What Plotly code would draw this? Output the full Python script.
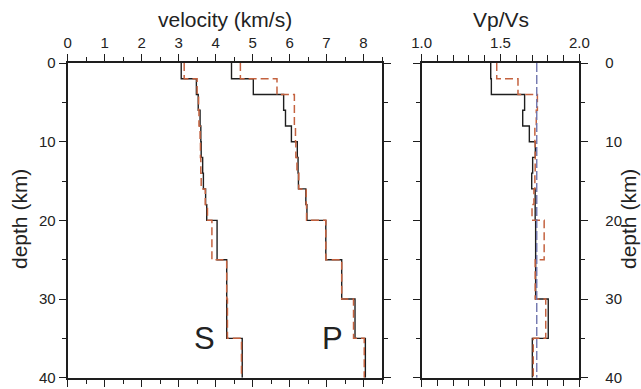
import plotly.graph_objects as go

# ---- data ----
depth_tops = [0, 2, 4, 6, 8, 10, 12, 14, 16, 18, 20, 25, 30, 35]
max_depth = 40

vs_black = [3.07, 3.48, 3.53, 3.58, 3.60, 3.61, 3.65, 3.67, 3.73, 3.76, 4.04, 4.30, 4.30, 4.72]
vp_black = [4.43, 5.02, 5.84, 5.89, 6.05, 6.21, 6.23, 6.24, 6.44, 6.47, 6.98, 7.41, 7.77, 8.05]
vs_red = [3.15, 3.50, 3.54, 3.55, 3.58, 3.59, 3.60, 3.61, 3.72, 3.78, 3.90, 4.30, 4.32, 4.70]
vp_red = [4.67, 5.66, 6.13, 6.13, 6.16, 6.17, 6.20, 6.25, 6.45, 6.46, 6.98, 7.41, 7.73, 8.02]

ratio_black = [1.438, 1.442, 1.653, 1.641, 1.683, 1.721, 1.704, 1.698, 1.720, 1.720, 1.723, 1.723, 1.803, 1.702]
ratio_red = [1.476, 1.611, 1.734, 1.727, 1.718, 1.720, 1.720, 1.718, 1.712, 1.700, 1.777, 1.720, 1.787, 1.708]
ratio_ref = 1.73

vel_ticks = [0, 1, 2, 3, 4, 5, 6, 7, 8]
ratio_ticks = [1.0, 1.5, 2.0]
depth_ticks = [0, 10, 20, 30, 40]

BLACK = "#1e1e1e"
RED = "#c4623f"
BLUE = "#6f74ad"
FONT = "Liberation Sans, Arial, sans-serif"
W, H = 641, 389


def step(vals):
    return vals + [vals[-1]], depth_tops + [max_depth]


fig = go.Figure()

def add(vals, color, dash, width, xa, ya):
    x, y = step(vals)
    fig.add_trace(go.Scatter(x=x, y=y, mode="lines", line_shape="vh",
                             line=dict(color=color, width=width, dash=dash),
                             xaxis=xa, yaxis=ya, showlegend=False, hoverinfo="skip"))

add(vs_black, BLACK, "solid", 1.4, "x", "y")
add(vp_black, BLACK, "solid", 1.4, "x", "y")
add(vs_red, RED, "8px,4px", 1.5, "x", "y")
add(vp_red, RED, "8px,4px", 1.5, "x", "y")

add(ratio_black, BLACK, "solid", 1.4, "x2", "y2")
add(ratio_red, RED, "8px,4px", 1.5, "x2", "y2")
fig.add_trace(go.Scatter(x=[ratio_ref, ratio_ref], y=[0, max_depth], mode="lines",
                         line=dict(color=BLUE, width=1.4, dash="9px,3px"),
                         xaxis="x2", yaxis="y2", showlegend=False, hoverinfo="skip"))

axis_common = dict(showgrid=False, zeroline=False, showline=True, linewidth=2,
                   linecolor=BLACK, mirror="ticks", ticks="outside", ticklen=7,
                   tickwidth=1, tickcolor=BLACK, automargin=False,
                   tickfont=dict(family=FONT, size=15, color="#222"))

x0, x1 = 67.7 / W, 382 / W
x2a, x2b = 421.7 / W, 579.3 / W
ytop, ybot = 1 - 63 / H, 1 - 377.7 / H

fig.update_layout(
    width=W, height=H, margin=dict(l=0, r=0, t=0, b=0),
    paper_bgcolor="white", plot_bgcolor="white",
    xaxis=dict(domain=[x0, x1], range=[0, 8.5], side="top", anchor="y",
               tickvals=vel_ticks,
               minor=dict(dtick=0.5, tick0=0, ticklen=4, ticks="outside", tickcolor=BLACK),
               **axis_common),
    yaxis=dict(domain=[ybot, ytop], range=[max_depth, 0], anchor="x",
               tickvals=depth_ticks,
               minor=dict(dtick=5, tick0=0, ticklen=4, ticks="outside", tickcolor=BLACK),
               **axis_common),
    xaxis2=dict(domain=[x2a, x2b], range=[1.0, 2.0], side="top", anchor="y2",
                tickvals=ratio_ticks, tickformat=".1f",
                minor=dict(dtick=0.1, tick0=1.0, ticklen=6, ticks="outside", tickcolor=BLACK),
                **axis_common),
    yaxis2=dict(domain=[ybot, ytop], range=[max_depth, 0], anchor="x2", side="right",
                tickvals=depth_ticks, ticklabelstandoff=14,
                minor=dict(dtick=5, tick0=0, ticklen=4, ticks="outside", tickcolor=BLACK),
                **axis_common),
)

title_font = dict(family=FONT, size=21, color="#222")
ann = [
    dict(text="velocity (km/s)", x=(x0 + x1) / 2, y=1 - 20 / H, xref="paper", yref="paper",
         showarrow=False, xanchor="center", yanchor="middle", font=title_font),
    dict(text="Vp/Vs", x=(x2a + x2b) / 2, y=1 - 20 / H, xref="paper", yref="paper",
         showarrow=False, xanchor="center", yanchor="middle", font=title_font),
    dict(text="depth (km)", x=19 / W, y=1 - 219 / H, xref="paper", yref="paper",
         showarrow=False, xanchor="center", yanchor="middle", textangle=-90, font=title_font),
    dict(text="depth (km)", x=628 / W, y=1 - 219 / H, xref="paper", yref="paper",
         showarrow=False, xanchor="center", yanchor="middle", textangle=-90, font=title_font),
    dict(text="S", x=3.71, y=35, xref="x", yref="y", showarrow=False,
         xanchor="center", yanchor="middle", font=dict(family=FONT, size=31, color="#222")),
    dict(text="P", x=7.15, y=35, xref="x", yref="y", showarrow=False,
         xanchor="center", yanchor="middle", font=dict(family=FONT, size=31, color="#222")),
]
fig.update_layout(annotations=ann)

fig.write_html("out.html")
